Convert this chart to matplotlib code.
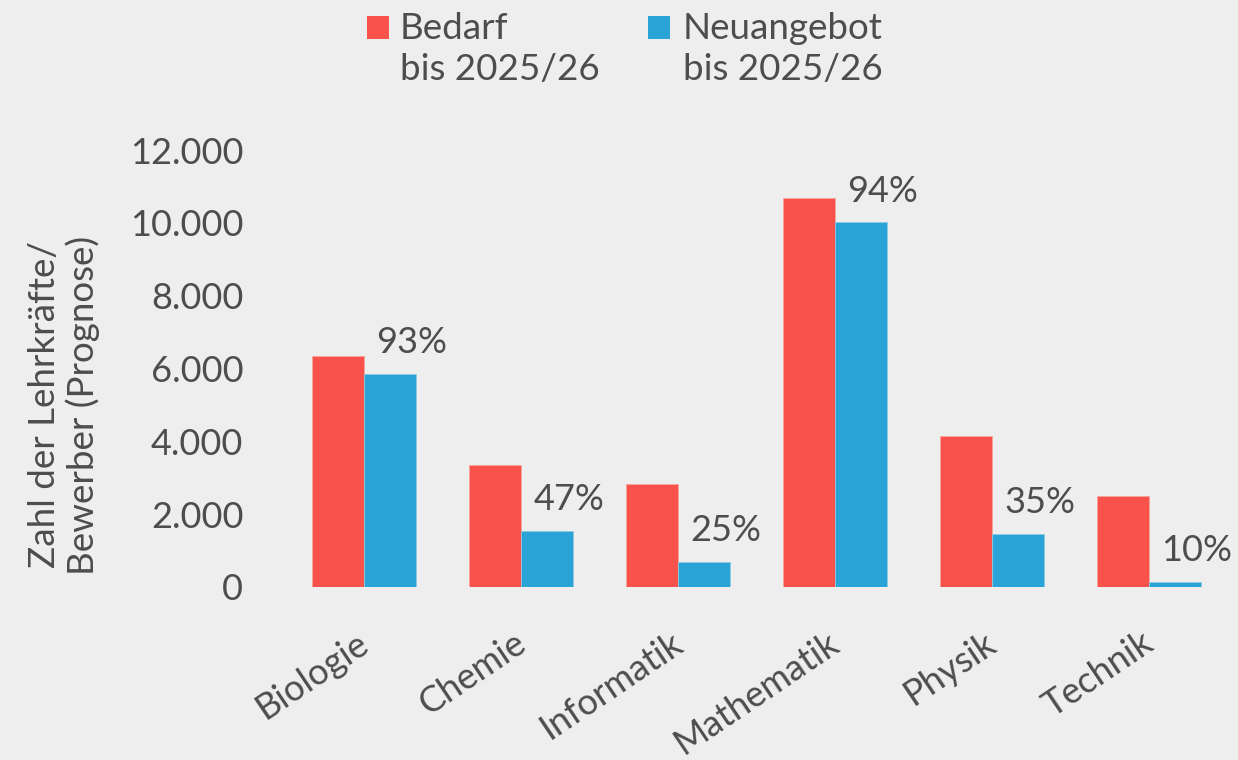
import matplotlib
matplotlib.use("Agg")
import matplotlib.pyplot as plt
from matplotlib.patches import Rectangle
import numpy as np

categories = ["Biologie", "Chemie", "Informatik", "Mathematik", "Physik", "Technik"]
bedarf = [6350, 3350, 2830, 10680, 4150, 2500]
neuangebot = [5850, 1540, 690, 10020, 1460, 140]
percent_labels = ["93%", "47%", "25%", "94%", "35%", "10%"]
yticks = [0, 2000, 4000, 6000, 8000, 10000, 12000]
ytick_labels = ["0", "2.000", "4.000", "6.000", "8.000", "10.000", "12.000"]
legend_labels = ["Bedarf\nbis 2025/26", "Neuangebot\nbis 2025/26"]

RED = "#f8524b"
BLUE = "#2aa4d6"
BG = "#eeeeee"
TXT = "#4d4d4d"

plt.rcParams['font.family'] = ['Lato', 'DejaVu Sans']

W, H = 1238, 760
fig = plt.figure(figsize=(W / 100, H / 100), dpi=100, facecolor=BG)
ax = fig.add_axes([260 / W, (H - 587) / H, (1232 - 260) / W, (587 - 150) / H])
ax.set_facecolor(BG)

x = np.arange(len(categories))
bw = 0.33
ax.bar(x - bw / 2, bedarf, bw, color=RED, edgecolor="#f7a49c", linewidth=0.6)
ax.bar(x + bw / 2, neuangebot, bw, color=BLUE, edgecolor="#8fc9e2", linewidth=0.6)

for xi, v, lab in zip(x, neuangebot, percent_labels):
    ax.annotate(lab, xy=(xi + bw / 2, v), xytext=(22, 31), textcoords="offset pixels",
                ha="center", va="center", fontsize=26, color=TXT)

ax.set_xlim((260 - 364) / 157, (1232 - 364) / 157)
ax.set_ylim(0, 12000)
ax.set_yticks(yticks)
ax.set_yticklabels(ytick_labels, fontsize=26, color=TXT)
ax.set_xticks(x - 0.05)
ax.set_xticklabels(categories, fontsize=26, color=TXT, rotation=34,
                   ha="right", rotation_mode="anchor")
ax.tick_params(axis="y", length=0, pad=12)
ax.tick_params(axis="x", length=0, pad=28)
for s in ax.spines.values():
    s.set_visible(False)

fig.text(64 / W, 1 - 405 / H, "Zahl der Lehrkräfte/\nBewerber (Prognose)",
         rotation=90, ha="center", va="center", fontsize=26.5, color=TXT,
         linespacing=1.15)

# legend (manual)
for (sx, tx), lab, col in zip([(367, 400), (648, 683)], legend_labels, [RED, BLUE]):
    fig.patches.append(Rectangle((sx / W, 1 - 39 / H), 22 / W, 23 / H,
                                 transform=fig.transFigure, facecolor=col,
                                 edgecolor="none"))
    fig.text(tx / W, 1 - 12 / H, lab, ha="left", va="top", fontsize=26.5,
             color=TXT, linespacing=1.3)

fig.savefig("out.png", dpi=100, facecolor=BG)
